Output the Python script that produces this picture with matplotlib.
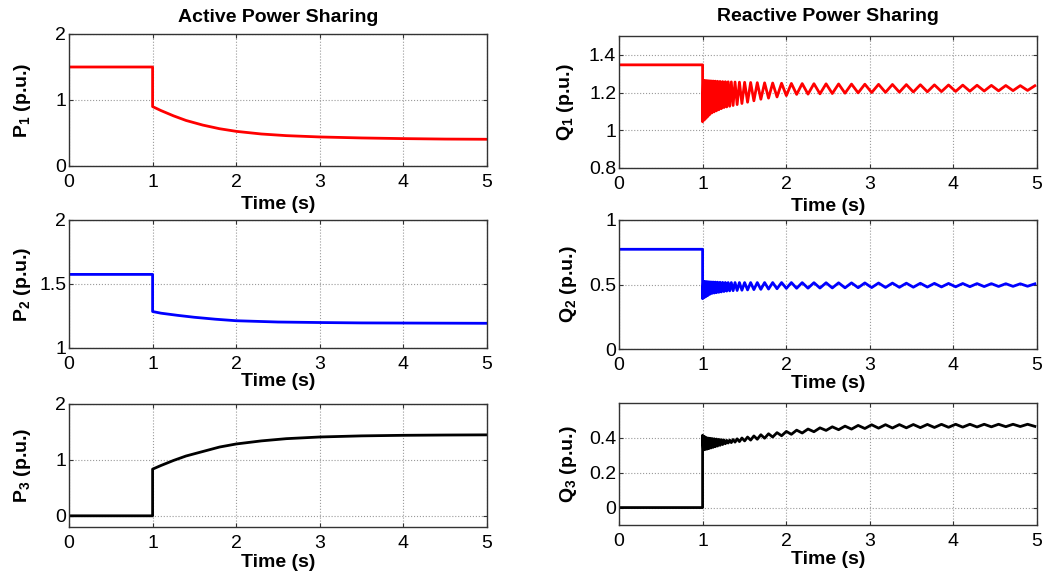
import numpy as np
import matplotlib
matplotlib.use('Agg')
import matplotlib.pyplot as plt
from matplotlib.ticker import FormatStrFormatter

plt.rcParams['font.family'] = ['Liberation Sans', 'DejaVu Sans']
plt.rcParams['mathtext.fontset'] = 'custom'
plt.rcParams['mathtext.bf'] = 'Liberation Sans:bold'
plt.rcParams['mathtext.rm'] = 'Liberation Sans:bold'

# active power, smooth curves (t, value)
p1_t = [0, 1.0, 1.0, 1.1, 1.25, 1.4, 1.6, 1.8, 2.0, 2.3, 2.6, 3.0, 3.5, 4.0, 4.5, 5.0]
p1_v = [1.5, 1.5, 0.9, 0.84, 0.76, 0.69, 0.62, 0.565, 0.525, 0.485, 0.46, 0.44, 0.425, 0.415, 0.408, 0.405]
p2_t = [0, 1.0, 1.0, 1.1, 1.3, 1.5, 1.75, 2.0, 2.5, 3.0, 3.5, 4.0, 5.0]
p2_v = [1.575, 1.575, 1.285, 1.272, 1.255, 1.24, 1.225, 1.213, 1.203, 1.199, 1.196, 1.195, 1.193]
p3_t = [0, 1.0, 1.0, 1.1, 1.25, 1.4, 1.6, 1.8, 2.0, 2.3, 2.6, 3.0, 3.5, 4.0, 4.5, 5.0]
p3_v = [0, 0, 0.835, 0.9, 0.99, 1.07, 1.15, 1.23, 1.285, 1.34, 1.38, 1.41, 1.43, 1.44, 1.445, 1.448]

# reactive power: value before the step, then oscillation envelope after t=1
q1_pre = 1.347
q1_env_t = [1.0, 1.1, 1.25, 1.45, 1.7, 2.1, 3.0, 4.0, 5.0]
q1_up = [1.265, 1.262, 1.258, 1.255, 1.252, 1.248, 1.244, 1.240, 1.236]
q1_lo = [1.045, 1.09, 1.12, 1.14, 1.165, 1.19, 1.20, 1.206, 1.212]

q2_pre = 0.773
q2_env_t = [1.0, 1.1, 1.3, 1.6, 2.0, 3.0, 4.0, 5.0]
q2_up = [0.525, 0.52, 0.515, 0.515, 0.515, 0.512, 0.508, 0.505]
q2_lo = [0.39, 0.43, 0.45, 0.46, 0.47, 0.476, 0.482, 0.487]

q3_pre = 0.0
q3_env_t = [1.0, 1.05, 1.3, 1.7, 2.1, 2.5, 3.0, 4.0, 5.0]
q3_up = [0.415, 0.40, 0.385, 0.418, 0.443, 0.462, 0.475, 0.478, 0.478]
q3_lo = [0.33, 0.335, 0.37, 0.395, 0.423, 0.444, 0.455, 0.461, 0.466]

# oscillation period seen in the picture (s)
osc_t = [1.0, 1.3, 1.5, 1.8, 2.2, 3.0, 5.0]
osc_period = [0.02, 0.035, 0.07, 0.1, 0.14, 0.165, 0.175]


def zigzag(pre, env_t, up, lo, low_first):
    t = [0.0, 1.0]
    v = [pre, pre]
    tt = 1.0
    k = 0 if low_first else 1
    while tt <= 5.0:
        if k % 2 == 0:
            v.append(np.interp(tt, env_t, lo))
        else:
            v.append(np.interp(tt, env_t, up))
        t.append(tt)
        tt += np.interp(tt, osc_t, osc_period) / 2
        k += 1
    return t, v


def style_ax(ax, ylim, yticks, ylab, xlab_y, ylab_x):
    ax.set_xlim(0, 5)
    ax.set_ylim(*ylim)
    ax.set_xticks([0, 1, 2, 3, 4, 5])
    ax.set_yticks(yticks)
    ax.yaxis.set_major_formatter(FormatStrFormatter('%g'))
    ax.grid(True, linestyle=':', color='#9a9a9a', linewidth=0.8)
    ax.tick_params(direction='in', length=3, labelsize=14, pad=2,
                   top=True, right=True, color='#333333')
    ax.tick_params(axis='x', pad=6)
    for s in ax.spines.values():
        s.set_color('#333333')
        s.set_linewidth(1.0)
    ax.set_xlabel('Time (s)', fontsize=14, fontweight='bold')
    ax.xaxis.set_label_coords(0.5, xlab_y)
    ax.xaxis.label.set_va('center')
    ax.set_ylabel(ylab, fontsize=14, fontweight='bold')
    ax.yaxis.set_label_coords(ylab_x, 0.5)
    ax.yaxis.label.set_va('center')


fig = plt.figure(figsize=(10.43, 5.77), dpi=100)
W, H = 1043.0, 577.0


def add_ax(left, top, right, bottom):
    return fig.add_axes([left / W, 1 - bottom / H, (right - left) / W, (bottom - top) / H])


ax1 = add_ax(69, 34, 487, 166)
ax2 = add_ax(69, 220, 487, 348)
ax3 = add_ax(69, 404, 487, 527)
ax4 = add_ax(619, 36, 1037, 168)
ax5 = add_ax(619, 220, 1037, 349)
ax6 = add_ax(619, 403, 1037, 525)

ax1.plot(p1_t, p1_v, color='r', linewidth=2)
ax2.plot(p2_t, p2_v, color='b', linewidth=2)
ax3.plot(p3_t, p3_v, color='k', linewidth=2)

t, v = zigzag(q1_pre, q1_env_t, q1_up, q1_lo, True)
ax4.plot(t, v, color='r', linewidth=2)
t, v = zigzag(q2_pre, q2_env_t, q2_up, q2_lo, True)
ax5.plot(t, v, color='b', linewidth=2)
t, v = zigzag(q3_pre, q3_env_t, q3_up, q3_lo, False)
ax6.plot(t, v, color='k', linewidth=2)

style_ax(ax1, (0, 2), [0, 1, 2], r'P$_\mathbf{1}$ (p.u.)', -0.29, -0.112)
style_ax(ax2, (1, 2), [1, 1.5, 2], r'P$_\mathbf{2}$ (p.u.)', -0.265, -0.112)
style_ax(ax3, (-0.2, 2), [0, 1, 2], r'P$_\mathbf{3}$ (p.u.)', -0.285, -0.112)
style_ax(ax4, (0.8, 1.5), [0.8, 1, 1.2, 1.4], r'Q$_\mathbf{1}$ (p.u.)', -0.29, -0.129)
style_ax(ax5, (0, 1), [0, 0.5, 1], r'Q$_\mathbf{2}$ (p.u.)', -0.265, -0.122)
style_ax(ax6, (-0.1, 0.6), [0, 0.2, 0.4], r'Q$_\mathbf{3}$ (p.u.)', -0.285, -0.122)

ax1.set_title('Active Power Sharing', fontsize=14, fontweight='bold', pad=9)
ax4.set_title('Reactive Power Sharing', fontsize=14, fontweight='bold', pad=11)

fig.savefig('out.png', dpi=100)
